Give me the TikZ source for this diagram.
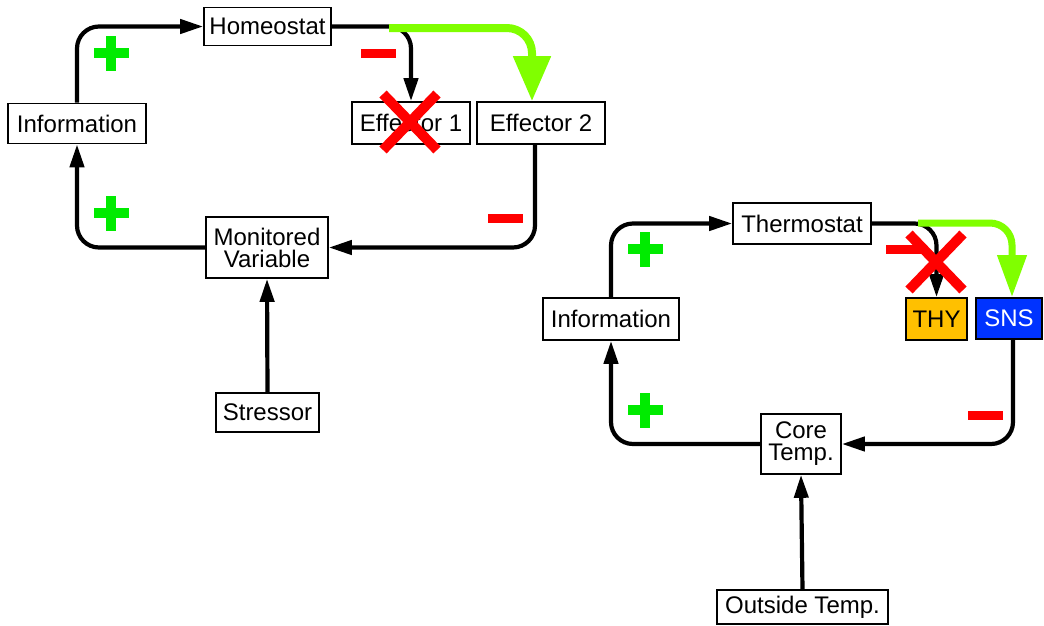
\documentclass[tikz,border=0pt]{standalone}
\usepackage{fontspec}
\setmainfont{Liberation Sans}
\usetikzlibrary{arrows.meta}
\definecolor{plusgreen}{RGB}{0,235,0}
\definecolor{minusred}{RGB}{255,0,0}
\definecolor{limegreen}{RGB}{128,255,0}
\definecolor{thyorange}{RGB}{255,192,0}
\definecolor{snsblue}{RGB}{0,51,255}
\tikzset{
  box/.style={draw, line width=1.6pt, fill=white, inner sep=0pt,
    font=\fontsize{24}{22}\selectfont, align=center},
  flow/.style={line width=4.2pt, rounded corners=22pt,
    -{Triangle[length=23pt,width=14pt]}},
  boost/.style={line width=8pt, draw=limegreen, rounded corners=25pt,
    -{Triangle[length=45pt,width=36pt,fill=limegreen]}},
  boostsmall/.style={line width=7pt, draw=limegreen, rounded corners=22pt,
    -{Triangle[length=42pt,width=28pt,fill=limegreen]}},
  plussign/.pic={
    \fill[plusgreen] (-17.5,-5) rectangle (17.5,5);
    \fill[plusgreen] (-5,-17.5) rectangle (5,17.5);
  },
  minussign/.pic={
    \fill[minusred] (-17.5,-4.5) rectangle (17.5,4.5);
  },
  blockcross/.pic={
    \draw[minusred, line width=10pt] (-27,-28) -- (27,28);
    \draw[minusred, line width=10pt] (27,-28) -- (-27,28);
  }
}
\begin{document}
\begin{tikzpicture}[x=1pt,y=-1pt]
\useasboundingbox (0,0) rectangle (1044,625);

% ---- general homeostat loop ----
\node[box, minimum width=127, minimum height=38] (homeo) at (267.5,26.5) {Homeostat};
\node[box, minimum width=138, minimum height=40] (info1) at (77,123.5) {Information};
\node[box, minimum width=118, minimum height=42] (eff1) at (411,123) {Effector 1};
\node[box, minimum width=128, minimum height=42] (eff2) at (541,123) {Effector 2};
\node[box, minimum width=122, minimum height=61] (mv) at (267,247.5) {Monitored\\Variable};
\node[box, minimum width=103, minimum height=39] (stress) at (267.5,412.5) {Stressor};

\draw[flow] (info1.north) |- (homeo.west);
\draw[flow] (homeo.east) -| (eff1.north);
\draw[flow] ([xshift=-6pt]eff2.south) |- (mv.east);
\draw[flow] (mv.west) -| (info1.south);
\draw[flow] (stress.north) -- (mv.south);

\coordinate (g1) at (389,28);
\draw[boost] (g1) -| ([xshift=-9pt]eff2.north);

\pic at (111,53) {plussign};
\pic at (111,213) {plussign};
\pic at (378.5,53) {minussign};
\pic at (505.5,218) {minussign};
\pic at (410,122) {blockcross};

% ---- thermoregulation loop ----
\node[box, minimum width=138, minimum height=41] (thermo) at (802,223.5) {Thermostat};
\node[box, minimum width=136, minimum height=42] (info2) at (611,319) {Information};
\node[box, fill=thyorange, minimum width=61, minimum height=42] (thy) at (936.5,319) {THY};
\node[box, fill=snsblue, text=white, minimum width=66, minimum height=41] (sns) at (1009,318.5) {SNS};
\node[box, minimum width=80, minimum height=60] (core) at (801,444) {Core\\Temp.};
\node[box, minimum width=171, minimum height=34] (outside) at (802.5,607) {Outside Temp.};

\draw[flow] (info2.north) |- (thermo.west);
\draw[flow] (thermo.east) -| (thy.north);
\draw[flow] ([xshift=4pt]sns.south) |- (core.east);
\draw[flow] (core.west) -| (info2.south);
\draw[flow] (outside.north) -- (core.south);

\coordinate (g2) at (918,223);
\draw[boostsmall] (g2) -| ([xshift=3pt]sns.north);

\pic at (645,249) {plussign};
\pic at (645,410) {plussign};
\pic at (903.5,249) {minussign};
\pic at (985,415) {minussign};
\pic at (936,262) {blockcross};
\end{tikzpicture}
\end{document}
